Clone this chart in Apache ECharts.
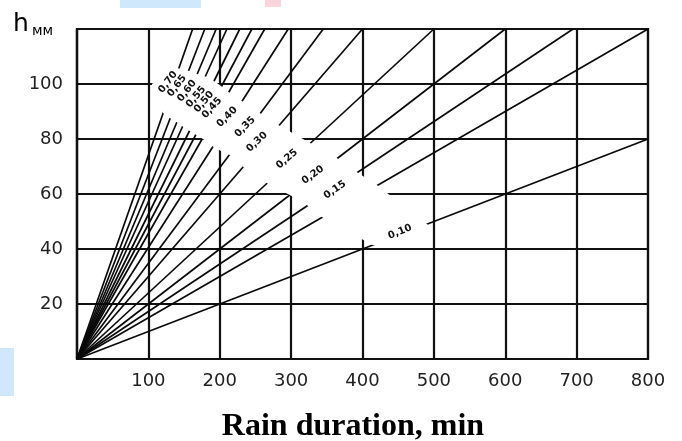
<!DOCTYPE html>
<html><head><meta charset="utf-8">
<script src="https://cdn.jsdelivr.net/npm/echarts@6/dist/echarts.min.js"></script>
<style>html,body{margin:0;padding:0;background:#fff}#c{width:682px;height:441px}</style>
</head><body><div id="c"></div>
<script>
// x axis: rain duration, min ; y axis: h, mm
const xMin = 0, xMax = 800, xStep = 100;
const yMin = 0, yMax = 120, yStep = 20;
const xTickLabels = ['100','200','300','400','500','600','700','800'];
const yTickLabels = ['20','40','60','80','100'];

// end point of each straight line drawn from the origin (t min, h mm)
const lineEnds = [[162,120],[179,120],[195,120],[210,120],[228,120],[245,120],[263,120],
                  [296,120],[345,120],[400,120],[500,120],[600,120],[695,120],[800,120],[800,80]];

// intensity labels and their anchor points (t, h) inside the blank band
const lineLabels = ['0,70','0,65','0,60','0,55','0,50','0,45','0,40','0,35','0,30','0,25','0,20','0,15','0,10'];
const labelAnchors = [[127.5,100.7],[140.1,99.3],[154.1,97.5],[166.7,95.3],[177.9,93.5],[189.1,91.3],
                      [210.2,88.0],[235.4,84.4],[252.2,78.9],[294.2,72.7],[330.6,66.9],[361.4,61.5],[452.5,46.2]];
const labelAngles = [52,52,52,50,50,48,45,45,43,40,36,34,22];

// blank band (where lines and grid are interrupted), upper-right edge and lower-left edge (t, h)
const bandUpper = [[137,106],[154,105],[172,103.3],[184,102.5],[200,99.6],[214,96.7],[233,93.5],[256,89.5],
                   [282,85.1],[324,78.9],[364,73.1],[394,67.6],[420,63.3],[492,48.7],[496,46.5]];
const bandLower = [[105,100],[106.5,97.8],[120.5,89.5],[130,87.6],[141.5,85.8],[151,84],[162.5,82.2],
                   [176.5,80],[193,76.7],[214,74.2],[233,69.8],[263,64.4],[298,59.6],[322,56],[343,51.6],
                   [414,41.5],[432,41.2]];

const chart = echarts.init(document.getElementById('c'), null, {renderer:'canvas'});
const band = bandUpper.concat(bandLower.slice().reverse());

const series = lineEnds.map(e => ({
  type:'line', data:[[0,0], e], symbol:'none', silent:true, z:2,
  lineStyle:{color:'#0a0a0a', width:1.7}
}));
series.push({
  type:'custom', z:3, silent:true, data:[[0,0]],
  renderItem:(params, api) => ({
    type:'polygon',
    shape:{points: band.map(p => api.coord(p))},
    style:{fill:'#fff'}
  })
});
series.push({
  type:'custom', z:4, silent:true,
  data: labelAnchors.map((p,i) => [p[0], p[1], i]),
  renderItem:(params, api) => {
    const i = api.value(2);
    const pt = api.coord([api.value(0), api.value(1)]);
    return {
      type:'text', x:pt[0], y:pt[1], rotation: labelAngles[i]*Math.PI/180,
      style:{text: lineLabels[i], font:'bold 10px "DejaVu Sans"', fill:'#111', align:'center', verticalAlign:'middle'}
    };
  }
});

chart.setOption({
  animation:false,
  backgroundColor:'#fff',
  grid:{left:77, right:34, top:29, bottom:82, show:true, borderColor:'#111', borderWidth:2.2, backgroundColor:'transparent'},
  xAxis:{type:'value', min:xMin, max:xMax, interval:xStep,
    axisLine:{show:true, lineStyle:{color:'#111', width:2.2}}, axisTick:{show:false},
    splitLine:{show:true, lineStyle:{color:'#111', width:2.2}},
    axisLabel:{margin:13, color:'#222', fontSize:18, fontFamily:'DejaVu Sans',
      formatter: v => xTickLabels.includes(String(v)) ? String(v) : ''}},
  yAxis:{type:'value', min:yMin, max:yMax, interval:yStep,
    axisLine:{show:true, lineStyle:{color:'#111', width:2.2}}, axisTick:{show:false},
    splitLine:{show:true, lineStyle:{color:'#111', width:2.2}},
    axisLabel:{margin:14, color:'#222', fontSize:18, fontFamily:'DejaVu Sans',
      formatter: v => yTickLabels.includes(String(v)) ? String(v) : ''}},
  graphic:[
    {type:'rect', shape:{x:120, y:0, width:81, height:8}, style:{fill:'#cfe8fb'}, z:0},
    {type:'rect', shape:{x:265, y:0, width:16, height:7}, style:{fill:'#fbd3da'}, z:0},
    {type:'rect', shape:{x:0, y:348, width:14, height:48}, style:{fill:'#cfe8fb'}, z:0},
    {type:'text', x:13, y:24, style:{text:'h', font:'25px "DejaVu Sans"', fill:'#000', align:'left', verticalAlign:'middle'}},
    {type:'text', x:32, y:31, style:{text:'мм', font:'14px "DejaVu Sans"', fill:'#000', align:'left', verticalAlign:'middle'}},
    {type:'text', x:353, y:427, style:{text:'Rain duration, min', font:'bold 32px "Liberation Serif"', fill:'#000', align:'center', verticalAlign:'middle'}}
  ],
  series
});
</script></body></html>
